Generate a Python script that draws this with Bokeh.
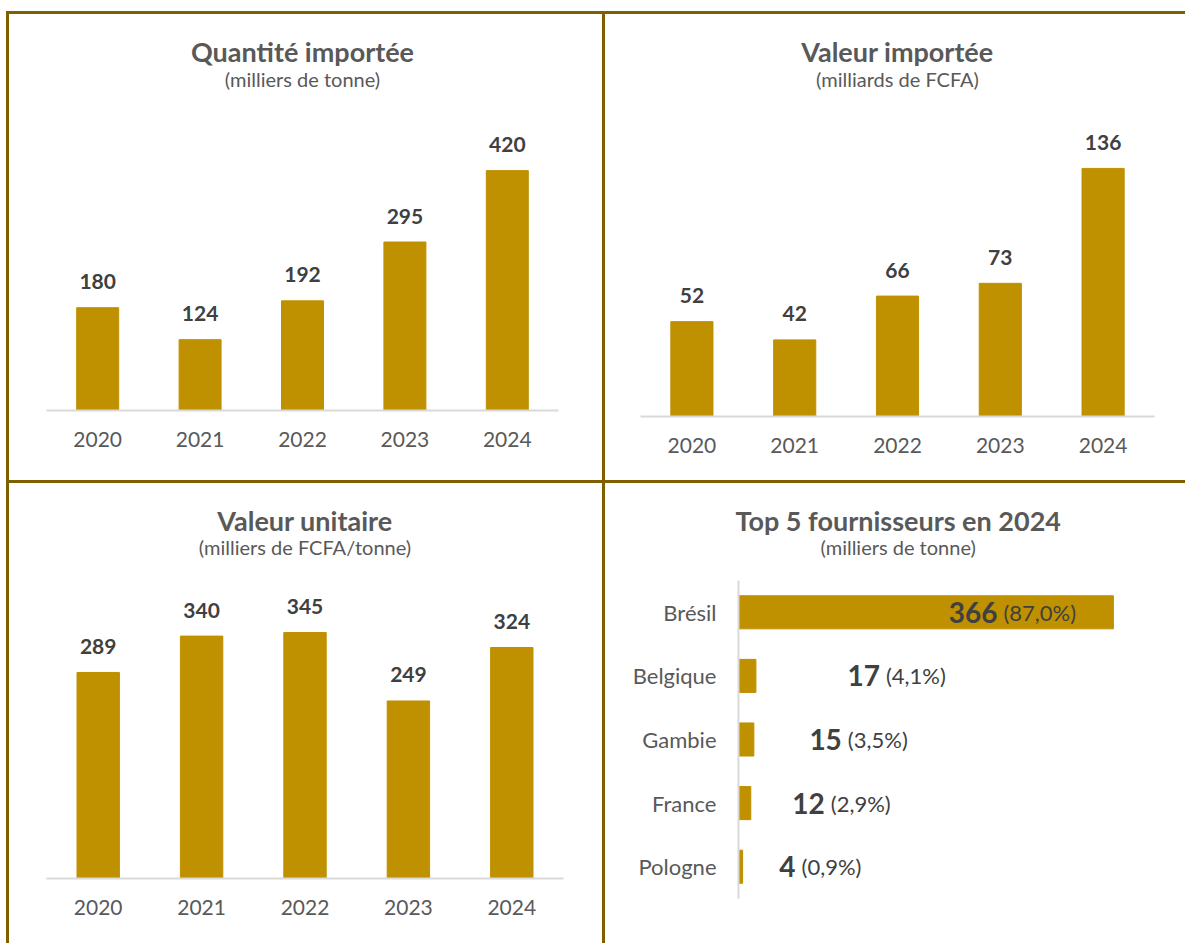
from bokeh.plotting import figure
from bokeh.models import ColumnDataSource, Title, Div, Range1d
from bokeh.layouts import column, row
from bokeh.embed import file_html
from bokeh.resources import INLINE
from bokeh.core.properties import value

# ---- data ----
years = ["2020", "2021", "2022", "2023", "2024"]
quantite = [180, 124, 192, 295, 420]
valeur = [52, 42, 66, 73, 136]
unitaire = [289, 340, 345, 249, 324]
pays = ["Brésil", "Belgique", "Gambie", "France", "Pologne"]
fourn_qte = [366, 17, 15, 12, 4]
fourn_part = [87.0, 4.1, 3.5, 2.9, 0.9]

# ---- styles ----
BAR = "#BF9000"
BORDER = "#7F6000"
DARK = "#404040"
GREY = "#595959"
AXIS = "#D9D9D9"
FONT = "Lato"


def add_titles(p, t, s, sub_standoff, t_standoff, align="center", offs=(0, 0)):
    p.add_layout(Title(text=s, align=align, text_font=FONT, text_font_size="20px",
                       text_font_style="normal", text_color=GREY,
                       standoff=sub_standoff, offset=offs[1]), "above")
    p.add_layout(Title(text=t, align=align, text_font=FONT, text_font_size="27px",
                       text_font_style="bold", text_color=GREY,
                       standoff=t_standoff, offset=offs[0]), "above")


def style_common(p):
    p.outline_line_color = None
    p.xgrid.grid_line_color = None
    p.ygrid.grid_line_color = None
    p.background_fill_color = "white"
    p.border_fill_color = "white"


def col_panel(t, s, vals, w, h, left, right, top, bottom, yend, sub_standoff, t_standoff):
    src = ColumnDataSource(dict(x=years, v=vals, lab=[str(v) for v in vals]))
    p = figure(x_range=years, y_range=Range1d(0, yend), width=w, height=h,
               output_backend="svg", toolbar_location=None, y_axis_location=None,
               min_border_left=left, min_border_right=right,
               min_border_top=top, min_border_bottom=bottom)
    style_common(p)
    p.vbar(x="x", top="v", width=0.41, source=src, fill_color=BAR, line_color=BAR)
    p.text(x="x", y="v", text="lab", source=src, text_align="center",
           text_baseline="middle", y_offset=-26, text_font=value(FONT),
           text_font_size="21px", text_font_style="bold", text_color=DARK)
    ax = p.xaxis[0]
    ax.axis_line_color = AXIS
    ax.axis_line_width = 2
    ax.major_tick_line_color = None
    ax.minor_tick_line_color = None
    ax.major_tick_out = 0
    ax.major_label_standoff = 21
    ax.major_label_text_font = FONT
    ax.major_label_text_font_size = "21px"
    ax.major_label_text_color = GREY
    add_titles(p, t, s, sub_standoff, t_standoff)
    return p


p1 = col_panel("Quantité importée", "(milliers de tonne)", quantite,
               593, 466, 37, 44, 95, 70, 527, 37, -42)
p2 = col_panel("Valeur importée", "(milliards de FCFA)", valeur,
               580, 466, 35, 31, 95, 64, 168.3, 37, -42)
p3 = col_panel("Valeur unitaire", "(milliers de FCFA/tonne)", unitaire,
               593, 460, 37, 39, 95, 65, 420.8, 39, -46)

# ---- top suppliers (horizontal bars) ----
lab_offsets = [-116, 124, 88, 74, 53]
src4 = ColumnDataSource(dict(
    y=pays, v=fourn_qte, num=[str(v) for v in fourn_qte],
    pct=["(" + f"{s:.1f}".replace(".", ",") + "%)" for s in fourn_part],
    off=lab_offsets, off2=[o + 6 for o in lab_offsets]))
p4 = figure(y_range=list(reversed(pays)), x_range=Range1d(0, 412), width=580, height=460,
            output_backend="svg", toolbar_location=None, x_axis_location=None,
            min_border_left=133, min_border_right=25, min_border_top=97, min_border_bottom=45)
style_common(p4)
p4.hbar(y="y", right="v", height=0.52, source=src4, fill_color=BAR, line_color=BAR)
p4.text(x="v", y="y", text="num", source=src4, x_offset="off", text_align="right",
        text_baseline="middle", text_font=value(FONT), text_font_size="28px",
        text_font_style="bold", text_color=DARK)
p4.text(x="v", y="y", text="pct", source=src4, x_offset="off2", text_align="left",
        text_baseline="middle", text_font=value(FONT), text_font_size="22px",
        text_color=DARK)
ay = p4.yaxis[0]
ay.axis_line_color = AXIS
ay.axis_line_width = 2
ay.major_tick_line_color = None
ay.minor_tick_line_color = None
ay.major_tick_out = 0
ay.major_label_standoff = 22
ay.major_label_text_font = FONT
ay.major_label_text_font_size = "22px"
ay.major_label_text_color = GREY
add_titles(p4, "Top 5 fournisseurs en 2024", "(milliers de tonne)", 43, -50,
           align="left", offs=(-3, 82))


def bar(w, h, color=BORDER):
    return Div(text="", width=w, height=h, margin=0,
               styles={"background-color": color} if color else {})


W = 3 + 593 + 3 + 580
layout = row(
    bar(6, 943, None),
    column(
        bar(W, 11, None),
        bar(W, 3),
        row(bar(3, 466), column(p1), bar(3, 466), column(p2), spacing=0),
        bar(W, 3),
        row(bar(3, 460), column(p3), bar(3, 460), column(p4), spacing=0),
        spacing=0,
    ),
    spacing=0,
)

open("out.html", "w").write(file_html(layout, INLINE))
